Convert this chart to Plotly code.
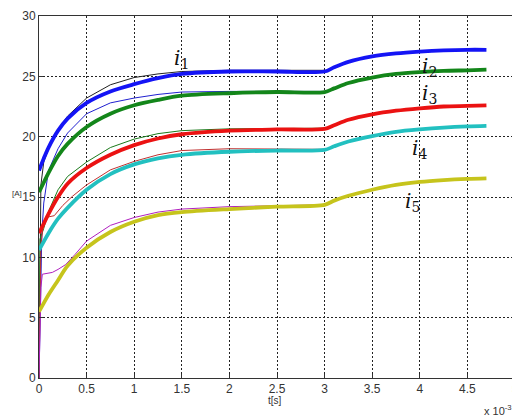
import plotly.graph_objects as go

# ---- data (time in ms, i.e. t[s] x 10^-3) ----
t_meas = [0.0, 0.05, 0.1, 0.2, 0.3, 0.5, 0.75, 1.0, 1.25, 1.5, 2.0, 2.5, 3.0,
          3.1, 3.25, 3.5, 3.75, 4.0, 4.25, 4.5, 4.7]
i1 = [17.2, 18.2, 19.1, 20.5, 21.5, 22.8, 23.75, 24.35, 24.85, 25.2, 25.4, 25.4, 25.4,
      25.75, 26.2, 26.65, 26.9, 27.05, 27.15, 27.2, 27.2]
i2 = [15.4, 16.2, 17.0, 18.4, 19.4, 20.8, 21.9, 22.6, 23.05, 23.4, 23.6, 23.7, 23.7,
      24.0, 24.45, 24.9, 25.2, 25.35, 25.45, 25.5, 25.55]
i3 = [12.0, 12.8, 13.6, 15.0, 16.1, 17.4, 18.5, 19.3, 19.85, 20.2, 20.5, 20.6, 20.65,
      20.95, 21.4, 21.85, 22.15, 22.35, 22.5, 22.55, 22.6]
i4 = [10.6, 11.3, 12.0, 13.2, 14.1, 15.6, 16.9, 17.7, 18.2, 18.5, 18.75, 18.85, 18.9,
      19.2, 19.6, 20.05, 20.4, 20.6, 20.75, 20.85, 20.9]
i5 = [5.5, 6.2, 6.9, 8.1, 9.3, 10.8, 12.1, 12.95, 13.5, 13.75, 14.0, 14.2, 14.35,
      14.7, 15.1, 15.6, 16.0, 16.25, 16.4, 16.5, 16.55]

t_ref1 = [0.0, 0.02, 0.05, 0.1, 0.2, 0.3, 0.5, 0.75, 1.0, 1.25, 1.5, 2.0, 3.0]
ref1 = [0.0, 16.0, 17.9, 19.0, 20.6, 21.7, 23.2, 24.3, 24.9, 25.2, 25.4, 25.5, 25.5]
t_ref2 = [0.0, 0.02, 0.03, 0.05, 0.1, 0.2, 0.3, 0.5, 0.75, 1.0, 1.25, 1.5, 2.0, 3.0]
ref2 = [0.0, 9.0, 12.0, 14.5, 17.2, 19.0, 20.3, 21.9, 22.8, 23.2, 23.5, 23.7, 23.75, 23.75]
t_ref3 = [0.0, 0.01, 0.05, 0.1, 0.2, 0.3, 0.5, 0.75, 1.0, 1.25, 1.5, 2.0, 3.0]
ref3 = [0.0, 11.5, 12.4, 13.8, 15.6, 16.7, 17.9, 19.1, 19.8, 20.25, 20.5, 20.65, 20.7]
t_ref4 = [0.0, 0.02, 0.05, 0.1, 0.16, 0.25, 0.35, 0.5, 0.75, 1.0, 1.25, 1.5, 2.0, 3.0]
ref4 = [0.0, 11.0, 13.0, 13.35, 13.45, 14.3, 15.05, 16.0, 17.25, 17.95, 18.5, 18.85, 19.0, 18.95]
t_ref5 = [0.0, 0.02, 0.035, 0.14, 0.2, 0.28, 0.38, 0.5, 0.75, 1.0, 1.25, 1.5, 2.0, 2.5, 3.0]
ref5 = [0.0, 7.5, 8.6, 8.75, 9.0, 9.4, 10.25, 11.35, 12.65, 13.3, 13.75, 14.0, 14.2, 14.25, 14.35]

labels = ["1", "2", "3", "4", "5"]
label_t = [1.5, 4.1, 4.1, 4.0, 3.92]
label_v = [26.4, 25.8, 23.5, 19.0, 14.6]

x_ticks = [0, 0.5, 1, 1.5, 2, 2.5, 3, 3.5, 4, 4.5, 5]
y_ticks = [0, 5, 10, 15, 20, 25, 30]

# ---- styles ----
meas_colors = ["#1414f5", "#13861a", "#eb1212", "#22c0c0", "#c6c41c"]
ref_colors = ["#222222", "#2020d0", "#1a7a1a", "#c03030", "#b020c0"]

fig = go.Figure()
refs = [(t_ref1, ref1), (t_ref2, ref2), (t_ref3, ref3), (t_ref4, ref4), (t_ref5, ref5)]
for (tt, vv), c in zip(refs, ref_colors):
    fig.add_trace(go.Scatter(x=tt, y=vv, mode="lines",
                             line=dict(color=c, width=1),
                             showlegend=False, hoverinfo="skip"))
for vv, c in zip([i1, i2, i3, i4, i5], meas_colors):
    fig.add_trace(go.Scatter(x=t_meas, y=vv, mode="lines",
                             line=dict(color=c, width=3.8, shape="spline", smoothing=0.8),
                             showlegend=False, hoverinfo="skip"))

for lab, lt, lv in zip(labels, label_t, label_v):
    fig.add_annotation(x=lt, y=lv, xref="x", yref="y",
                       text="<i>i</i><sub>" + lab + "</sub>", showarrow=False,
                       font=dict(family="DejaVu Serif", size=20, color="#111111"))

fig.add_annotation(x=2.48, y=-0.062, xref="x", yref="paper", text="t[s]",
                   showarrow=False, yanchor="middle",
                   font=dict(family="Liberation Sans", size=10, color="#333333"))
fig.add_annotation(x=-0.06, y=15.3, xref="paper", yref="y", text="[A]",
                   showarrow=False,
                   font=dict(family="Liberation Sans", size=8, color="#333333"))
fig.add_annotation(x=1.0, y=-0.088, xref="paper", yref="paper",
                   text="x 10<sup>-3</sup>", showarrow=False,
                   xanchor="right", yanchor="middle", xshift=-1,
                   font=dict(family="Liberation Sans", size=11, color="#333333"))

axis_common = dict(showline=True, mirror=True, linecolor="#333333", linewidth=1,
                   showgrid=True, gridcolor="#222222", gridwidth=1, griddash="2px,2px",
                   ticks="inside", ticklen=4, tickcolor="#333333", zeroline=False,
                   ticklabeloverflow="allow",
                   tickfont=dict(family="Liberation Sans", size=12, color="#333333"))

fig.update_xaxes(range=[0, 5], tickvals=x_ticks, ticktext=[("%g" % v) for v in x_ticks],
                 **axis_common)
fig.update_yaxes(range=[0, 30], tickvals=y_ticks, **axis_common)

fig.update_layout(width=512, height=408, margin=dict(l=31, r=1, t=5, b=38),
                  plot_bgcolor="white", paper_bgcolor="white")

fig.write_html("out.html")
